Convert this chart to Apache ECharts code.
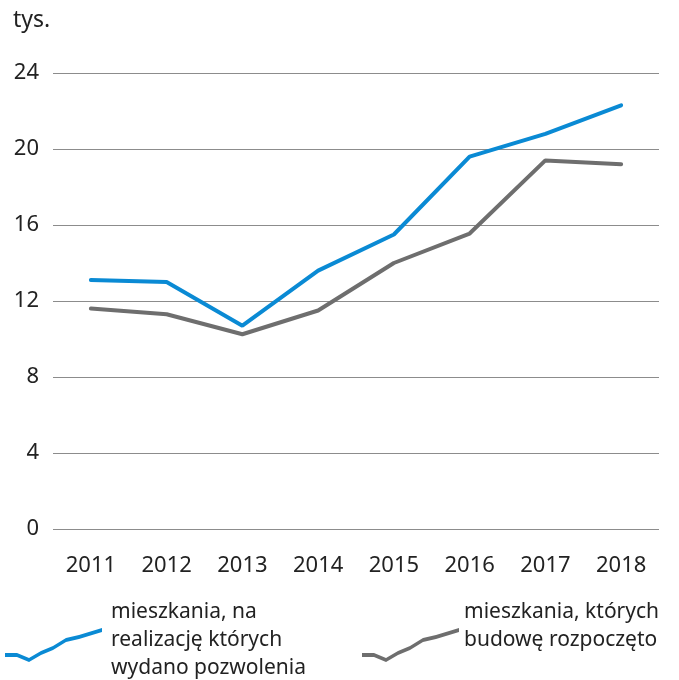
<!DOCTYPE html>
<html>
  <head>
    <meta charset="utf-8">
    <title>mieszkania</title>
    <script src="https://cdn.jsdelivr.net/npm/echarts@6/dist/echarts.min.js" charset="utf-8"></script>
    <style media="screen">
      html, body{
        margin: 0;
        padding: 0;
        background: #fff;
      }
    </style>
  </head>
  <body>
    <div id="main" style="width: 679px;height:680px;"></div>
    <script type="text/javascript">
      var years = ['2011', '2012', '2013', '2014', '2015', '2016', '2017', '2018'];
      var pozwolenia = [13.1, 13.0, 10.7, 13.6, 15.5, 19.6, 20.8, 22.3];
      var rozpoczete = [11.6, 11.3, 10.25, 11.5, 14.0, 15.55, 19.4, 19.2];
      var yTicks = [0, 4, 8, 12, 16, 20, 24];
      var names = ['mieszkania, na\nrealizację których\nwydano pozwolenia', 'mieszkania, których\nbudowę rozpoczęto'];
      var colors = ['#0a8ad4', '#6e6e6e'];

      // zygzak w legendzie - wypelniony pasek grubosci 4px
      var pts = [[0,25],[12,25],[24,30],[36,23],[48,18],[61,10],[74,7],[97,0]];
      function zigzag(p, t){
        var top = p.map(function(q){ return q[0] + ',' + q[1]; });
        var bot = p.slice().reverse().map(function(q){ return q[0] + ',' + (q[1] + t); });
        return 'path://M' + top.join(' L') + ' L' + bot.join(' L') + ' Z';
      }
      var icon = zigzag(pts, 4);
      var font = '"Noto Sans", "Open Sans", sans-serif';

      // pusta linia na koncu podnosi tekst wzgledem ikony
      function legendItem(i, tail, padLeft){
        return {
          data: [{ name: names[i], icon: icon }],
          left: i == 0 ? 5 : 362,
          top: 598,
          padding: 0,
          itemWidth: 97,
          itemHeight: 34,
          itemGap: 0,
          formatter: function (n) { return n + '\n{s| }'; },
          textStyle: {
            fontSize: 21, color: '#222', lineHeight: 28,
            padding: [0, 0, 0, padLeft],
            rich: { s: { fontSize: 8, lineHeight: tail } }
          }
        };
      }

      var myChart = echarts.init(document.getElementById('main'));
      var option = {
        animation: false,
        color: colors,
        textStyle: { fontFamily: font },
        title: {
          text: 'tys.',
          left: 8,
          top: 4,
          textStyle: { fontSize: 23, fontWeight: 'normal', color: '#222', fontFamily: font }
        },
        legend: [legendItem(0, 10, 4), legendItem(1, 38, 0)],
        grid: {
          left: 53,
          right: 20,
          top: 73,
          bottom: 151
        },
        xAxis: {
          type: 'category',
          data: years,
          boundaryGap: true,
          axisLine: { show: false },
          axisTick: { show: false },
          axisLabel: { fontSize: 22, color: '#222', margin: 26 }
        },
        yAxis: {
          type: 'value',
          min: yTicks[0],
          max: yTicks[yTicks.length - 1],
          interval: 4,
          axisLine: { show: false },
          axisTick: { show: false },
          axisLabel: { fontSize: 22, color: '#222', margin: 14 },
          splitLine: { lineStyle: { color: '#8c8c8c', width: 1 } }
        },
        series: [
          {
            name: names[0],
            type: 'line',
            data: pozwolenia,
            symbol: 'none',
            lineStyle: { width: 4, color: colors[0], cap: 'round' }
          },
          {
            name: names[1],
            type: 'line',
            data: rozpoczete,
            symbol: 'none',
            lineStyle: { width: 4, color: colors[1], cap: 'round' }
          }
        ]
      };
      myChart.setOption(option);
    </script>
  </body>
</html>
